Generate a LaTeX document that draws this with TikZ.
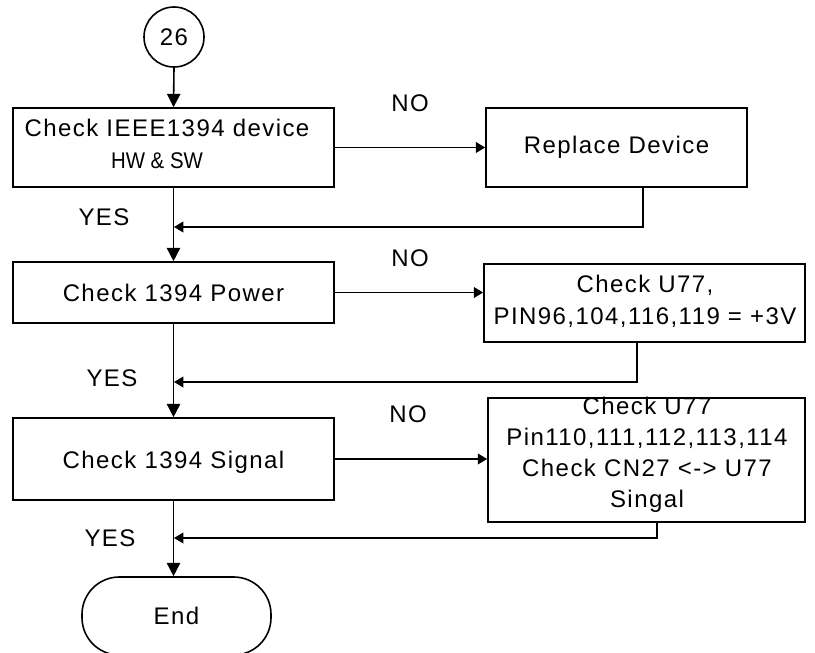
\documentclass[tikz,border=0pt]{standalone}
\usepackage{fontspec}
\setmainfont{Liberation Sans}[LetterSpace=6]
\newfontfamily\smallcond{Liberation Sans}[FakeStretch=0.9]
\usetikzlibrary{arrows.meta,calc}
\tikzset{
  box/.style={draw,line width=1.2pt,inner sep=0pt,font=\fontsize{18}{21}\selectfont},
  lab/.style={font=\fontsize{18}{21}\selectfont},
  conn/.style={line width=1.2pt},
  down/.style={conn,-{Triangle[length=10pt,width=10pt]}},
  side/.style={conn,-{Triangle[length=7pt,width=8pt]}},
}
\begin{document}
\begin{tikzpicture}[x=0.75pt,y=-0.75pt]
\useasboundingbox (0,0) rectangle (815,653);
\clip (0,0) rectangle (815,653);
% nodes
\node[box,circle,minimum size=45pt] (c26) at (174,37) {26};
\node[box,minimum width=240.75pt,minimum height=59.25pt] (b1) at (173.5,147.5) {};
\node[lab] at (167,128) {Check IEEE1394 device};
\node[lab,font=\smallcond\fontsize{17}{20}\selectfont] at (157,161) {HW \& SW};
\node[box,minimum width=195.75pt,minimum height=59.25pt] (r1) at (616.5,147.5) {Replace Device};
\node[box,minimum width=240.75pt,minimum height=45.75pt] (b2) at (173.5,292.5) {Check 1394 Power};
\node[box,minimum width=240.75pt,minimum height=58.5pt] (r2) at (644.5,303) {};
\node[lab,align=center,font=\fontsize{18}{24}\selectfont] (r2t) at (645,301) {Check U77,\\PIN96,104,116,119 = +3V};
\node[box,minimum width=240.75pt,minimum height=61.5pt] (b3) at (173.5,459) {};
\node[lab] at (173.5,462) {Check 1394 Signal};
\node[box,minimum width=237.75pt,minimum height=93pt] (r3) at (646.5,460) {};
\node[lab,align=center,font=\fontsize{18}{23.25}\selectfont] (r3t) at (647,455) {Check U77\\Pin110,111,112,113,114\\Check CN27 <-> U77\\Singal};
\node[box,rounded corners=28pt,minimum width=141.75pt,minimum height=58.5pt] (end) at (176.5,616) {End};
% labels
\node[lab] at (410,103) {NO};
\node[lab] at (410,258) {NO};
\node[lab] at (408,414) {NO};
\node[lab] at (104,217) {YES};
\node[lab] at (112,378) {YES};
\node[lab] at (110,538) {YES};
% junctions
\coordinate (j1) at (174,227);
\coordinate (j2) at (174,382);
\coordinate (j3) at (174,538);
% connectors
\draw[down] (c26.south) -- (b1.north);
\draw[down] (b1.south) -- (b2.north);
\draw[down] (b2.south) -- (b3.north);
\draw[down] (b3.south) -- (b3.south |- end.north);
\draw[side] (b1.east) -- (r1.west);
\draw[side] (b2.east) -- (r2.west |- b2.east);
\draw[side] (b3.east) -- (r3.west |- b3.east);
\draw[side] ($(r1.south)+(26.5,0)$) |- (j1);
\draw[side] ($(r2.south)+(-7.5,0)$) |- (j2);
\draw[side] ($(r3.south)+(10.5,0)$) |- (j3);
\end{tikzpicture}
\end{document}
